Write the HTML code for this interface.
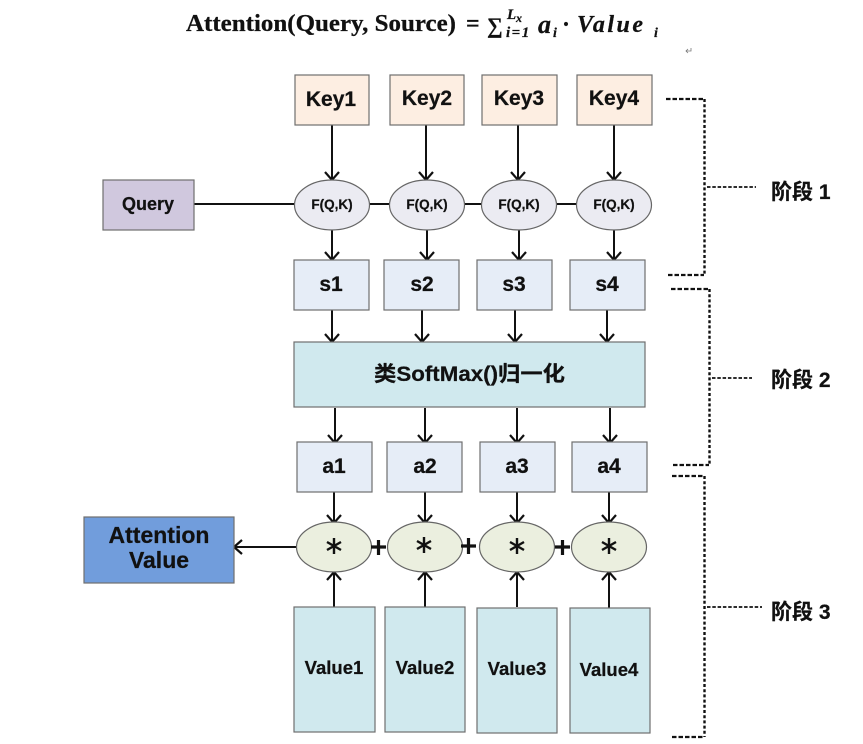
<!DOCTYPE html>
<html><head><meta charset="utf-8">
<style>
html,body{margin:0;padding:0;background:#fff;width:863px;height:744px;overflow:hidden}
svg{display:block}
text{font-family:"Liberation Sans","Noto Sans CJK SC",sans-serif;font-weight:bold;fill:#111;text-anchor:middle;stroke:#111;stroke-width:.25}
.r{stroke:#6f6f6f;stroke-width:1.2}
.l{stroke:#111;stroke-width:2;fill:none}
.h{stroke:#111;stroke-width:2.2;fill:none;stroke-dasharray:4.500 2}
.v{stroke:#111;stroke-width:2.4;fill:none;stroke-dasharray:3 2.200}
.m{stroke:#111;stroke-width:1.7;fill:none;stroke-dasharray:3.500 1.800}
text.f{font-family:"Liberation Serif","Noto Serif CJK SC",serif;text-anchor:start}
text.s{text-anchor:start}
</style></head><body>
<svg width="863" height="744" viewBox="0 0 863 744" xmlns="http://www.w3.org/2000/svg">
<defs><marker id="a" markerWidth="12" markerHeight="16" refX="9.500" refY="8" orient="auto" markerUnits="userSpaceOnUse"><path d="M1.500 1L9.500 8L1.500 15" fill="none" stroke="#111" stroke-width="2.200"/></marker></defs>

<text class="f" x="186" y="31" font-size="24" textLength="270" lengthAdjust="spacingAndGlyphs">Attention(Query, Source)</text>
<text class="f" x="466" y="31" font-size="24">=</text>
<text class="f" x="487" y="33" font-size="22">∑</text>
<text class="f" x="507" y="19" font-size="15" font-style="italic">L</text>
<text class="f" x="516" y="22" font-size="12" font-style="italic">x</text>
<text class="f" x="506" y="37" font-size="15" font-style="italic" letter-spacing="1.500">i=1</text>
<text class="f" x="538" y="33" font-size="26" font-style="italic">a</text>
<text class="f" x="553" y="37" font-size="14" font-style="italic">i</text>
<text class="f" x="562" y="32" font-size="24">·</text>
<text class="f" x="577" y="32" font-size="24" font-style="italic" letter-spacing="2.500">Value</text>
<text class="f" x="654" y="37" font-size="14" font-style="italic">i</text>
<path d="M691 48v3h-5M688 49l-2 2 2 2" stroke="#777" stroke-width="0.8" fill="none"/>

<!-- connectors -->
<path class="l" d="M194 204H295M369 204H389M464 204H482M557 204H577"/>
<path class="l" marker-end="url(#a)" d="M332 125V180"/><path class="l" marker-end="url(#a)" d="M426 125V180"/><path class="l" marker-end="url(#a)" d="M518 125V180"/><path class="l" marker-end="url(#a)" d="M614 125V180"/>
<path class="l" marker-end="url(#a)" d="M332 229V260"/><path class="l" marker-end="url(#a)" d="M427 229V260"/><path class="l" marker-end="url(#a)" d="M519 229V260"/><path class="l" marker-end="url(#a)" d="M614 229V260"/>
<path class="l" marker-end="url(#a)" d="M332 310V342"/><path class="l" marker-end="url(#a)" d="M422 310V342"/><path class="l" marker-end="url(#a)" d="M515 310V342"/><path class="l" marker-end="url(#a)" d="M607 310V342"/>
<path class="l" marker-end="url(#a)" d="M335 408V443"/><path class="l" marker-end="url(#a)" d="M425 408V443"/><path class="l" marker-end="url(#a)" d="M517 408V443"/><path class="l" marker-end="url(#a)" d="M610 408V443"/>
<path class="l" marker-end="url(#a)" d="M334 492V523"/><path class="l" marker-end="url(#a)" d="M425 492V523"/><path class="l" marker-end="url(#a)" d="M517 492V523"/><path class="l" marker-end="url(#a)" d="M609 492V523"/>
<path class="l" marker-end="url(#a)" d="M334 607V572"/><path class="l" marker-end="url(#a)" d="M425 607V572"/><path class="l" marker-end="url(#a)" d="M517 607V572"/><path class="l" marker-end="url(#a)" d="M609 608V572"/>
<path class="l" marker-end="url(#a)" d="M297 547H234"/>

<!-- Keys -->
<g fill="#fdeee2" class="r"><rect x="295" y="75" width="74" height="50"/><rect x="390" y="75" width="74" height="50"/><rect x="482" y="75" width="75" height="50"/><rect x="577" y="75" width="75" height="50"/></g>
<g font-size="21"><text x="331" y="106">Key1</text><text x="427" y="105">Key2</text><text x="519" y="105">Key3</text><text x="614" y="105">Key4</text></g>

<!-- Query -->
<rect x="103" y="180" width="91" height="50" fill="#d0c8de" class="r"/>
<text x="148" y="210" font-size="18">Query</text>

<!-- F -->
<g fill="#ebebf2" stroke="#666" stroke-width="1.2"><ellipse cx="332" cy="205" rx="37.5" ry="25"/><ellipse cx="427" cy="205" rx="37.5" ry="25"/><ellipse cx="519" cy="205" rx="37.5" ry="25"/><ellipse cx="614" cy="205" rx="37.5" ry="25"/></g>
<g font-size="13.500"><text x="332" y="209">F(Q,K)</text><text x="427" y="209">F(Q,K)</text><text x="519" y="209">F(Q,K)</text><text x="614" y="209">F(Q,K)</text></g>

<!-- s -->
<g fill="#e6edf7" class="r"><rect x="294" y="260" width="75" height="50"/><rect x="384" y="260" width="75" height="50"/><rect x="477" y="260" width="75" height="50"/><rect x="570" y="260" width="75" height="50"/></g>
<g font-size="21"><text x="331" y="291">s1</text><text x="422" y="291">s2</text><text x="514" y="291">s3</text><text x="607" y="291">s4</text></g>

<!-- softmax -->
<rect x="294" y="342" width="351" height="65" fill="#d0e9ee" class="r"/>
<text x="469.500" y="381" font-size="21" textLength="191" lengthAdjust="spacingAndGlyphs">类SoftMax()归一化</text>

<!-- a -->
<g fill="#e6edf7" class="r"><rect x="297" y="442" width="75" height="50"/><rect x="387" y="442" width="75" height="50"/><rect x="480" y="442" width="75" height="50"/><rect x="572" y="442" width="75" height="50"/></g>
<g font-size="21"><text x="334" y="473">a1</text><text x="425" y="473">a2</text><text x="517" y="473">a3</text><text x="609" y="473">a4</text></g>

<!-- * -->
<g fill="#ebefdf" stroke="#666" stroke-width="1.2"><ellipse cx="334" cy="547" rx="37.5" ry="25"/><ellipse cx="425" cy="547" rx="37.5" ry="25"/><ellipse cx="517" cy="547" rx="37.5" ry="25"/><ellipse cx="609" cy="547" rx="37.5" ry="25"/></g>
<g stroke="#111" stroke-width="2.400"><path d="M334 538V554M327 542L341 550M341 542L327 550"/><path d="M424 537V553M417 541L431 549M431 541L417 549"/><path d="M517 538V554M510 542L524 550M524 542L510 550"/><path d="M609 538V554M602 542L616 550M616 542L602 550"/></g>
<g stroke="#111" stroke-width="3.2"><path d="M371 547H386M378.500 540V555"/><path d="M461 546H476M468.500 538V554"/><path d="M555 547H570M562.500 540V555"/></g>

<!-- Attention -->
<rect x="84" y="517" width="150" height="66" fill="#719ddc" class="r"/>
<text x="159" y="543" font-size="23">Attention</text>
<text x="159" y="568" font-size="23">Value</text>

<!-- Values -->
<g fill="#d0e9ee" class="r"><rect x="294" y="607" width="81" height="125"/><rect x="385" y="607" width="80" height="125"/><rect x="477" y="608" width="80" height="125"/><rect x="570" y="608" width="80" height="125"/></g>
<g font-size="18.500"><text x="334" y="674">Value1</text><text x="425" y="674">Value2</text><text x="517" y="675">Value3</text><text x="609" y="676">Value4</text></g>

<!-- brackets -->
<path class="h" d="M666 99H704M668 275H704"/><path class="v" d="M704.500 99V275"/><path class="m" d="M707 187H756"/>
<path class="h" d="M671 289H709M673 465H709"/><path class="v" d="M709.500 289V465"/><path class="m" d="M712 378H752"/>
<path class="h" d="M672 476H704M672 737H704"/><path class="v" d="M704.500 476V737"/><path class="m" d="M707 607H762"/>
<g font-size="21"><text class="s" x="771" y="199">阶段 1</text><text class="s" x="771" y="387">阶段 2</text><text class="s" x="771" y="619">阶段 3</text></g>
</svg>
</body></html>
